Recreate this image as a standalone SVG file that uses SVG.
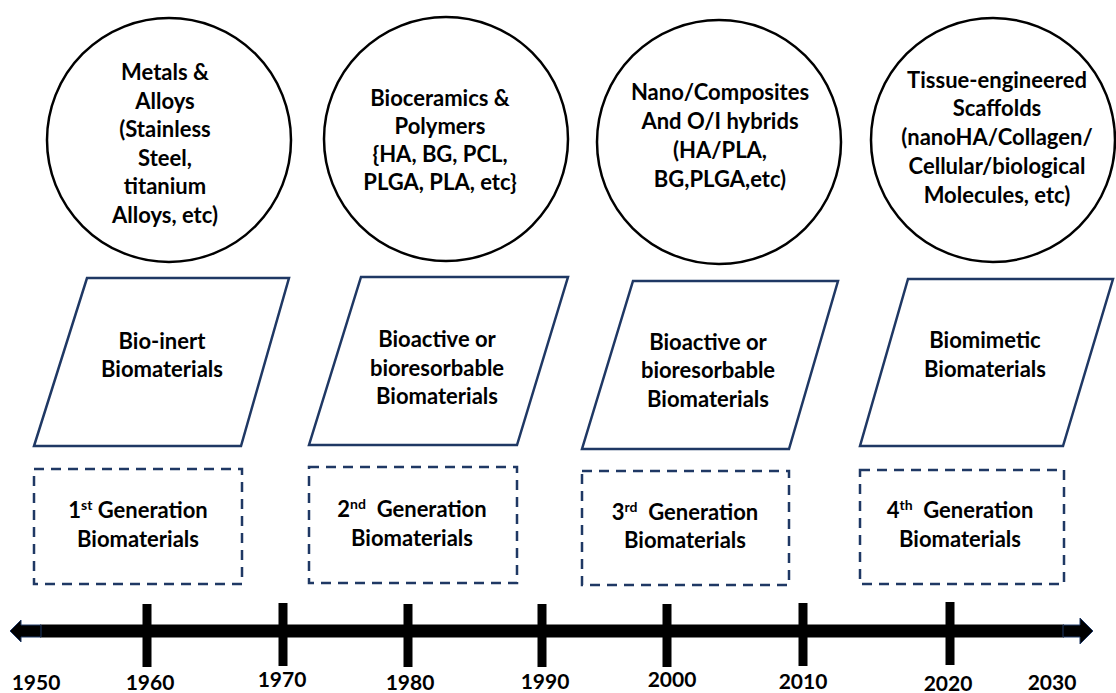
<svg xmlns="http://www.w3.org/2000/svg" width="1116" height="693" viewBox="0 0 1116 693">
<style>
.bg{fill:#ffffff}
.circ{fill:#ffffff;stroke:#000000;stroke-width:2.5}
.para{fill:#ffffff;stroke:#1F3864;stroke-width:2.5;stroke-linejoin:miter}
.dash{fill:#ffffff;stroke:#1F3864;stroke-width:2.5;stroke-dasharray:10 7}
.t{font-family:Lato,"Liberation Sans",sans-serif;font-weight:bold;font-size:22px;fill:#000000;text-anchor:middle}
.sup{font-size:14px}
.yr{font-family:Lato,"Liberation Sans",sans-serif;font-weight:bold;font-size:21px;fill:#000000;text-anchor:middle}
.axis{fill:#000000}
.arr{fill:#000000;stroke:#1F3864;stroke-width:1}
</style>
<rect class="bg" x="0" y="0" width="1116" height="693"/>

<g id="material1">
<circle class="circ" cx="169" cy="140" r="122"/>
<text class="t" x="165" y="80">Metals &amp;</text>
<text class="t" x="165" y="108.5">Alloys</text>
<text class="t" x="165" y="137">(Stainless</text>
<text class="t" x="165" y="165.5">Steel,</text>
<text class="t" x="165" y="194">titanium</text>
<text class="t" x="165" y="222.5">Alloys, etc)</text>
</g>
<g id="material2">
<circle class="circ" cx="446" cy="139" r="122"/>
<text class="t" x="440" y="106">Bioceramics &amp;</text>
<text class="t" x="440" y="134">Polymers</text>
<text class="t" x="440" y="162">{HA, BG, PCL,</text>
<text class="t" x="440" y="190">PLGA, PLA, etc}</text>
</g>
<g id="material3">
<circle class="circ" cx="719" cy="142" r="122"/>
<text class="t" x="720" y="100">Nano/Composites</text>
<text class="t" x="720" y="129">And O/I hybrids</text>
<text class="t" x="720" y="158">(HA/PLA,</text>
<text class="t" x="720" y="187">BG,PLGA,etc)</text>
</g>
<g id="material4">
<circle class="circ" cx="993" cy="140" r="122"/>
<text class="t" x="997" y="88">Tissue-engineered</text>
<text class="t" x="997" y="116">Scaffolds</text>
<text class="t" x="997" y="145">(nanoHA/Collagen/</text>
<text class="t" x="997" y="174">Cellular/biological</text>
<text class="t" x="997" y="203">Molecules, etc)</text>
</g>

<g id="type1">
<polygon class="para" points="87,278 289,278 241,446 34,446"/>
<text class="t" x="162" y="349">Bio-inert</text>
<text class="t" x="162" y="377">Biomaterials</text>
</g>
<g id="type2">
<polygon class="para" points="361,277 568,277 517,445 309,445"/>
<text class="t" x="437" y="347">Bioactive or</text>
<text class="t" x="437" y="376">bioresorbable</text>
<text class="t" x="437" y="404">Biomaterials</text>
</g>
<g id="type3">
<polygon class="para" points="633,281 838,281 789,449 582,449"/>
<text class="t" x="708" y="350">Bioactive or</text>
<text class="t" x="708" y="378">bioresorbable</text>
<text class="t" x="708" y="407">Biomaterials</text>
</g>
<g id="type4">
<polygon class="para" points="908,279 1113,279 1063,446 860,446"/>
<text class="t" x="985" y="348">Biomimetic</text>
<text class="t" x="985" y="377">Biomaterials</text>
</g>

<g id="gen1">
<rect class="dash" x="34" y="469" width="208" height="115"/>
<text class="t" x="138" y="518" xml:space="preserve">1<tspan class="sup" dy="-8">st</tspan><tspan dy="8"> Generation</tspan></text>
<text class="t" x="138" y="547">Biomaterials</text>
</g>
<g id="gen2">
<rect class="dash" x="309" y="467" width="208" height="116"/>
<text class="t" x="412" y="517" xml:space="preserve">2<tspan class="sup" dy="-8">nd</tspan><tspan dy="8">  Generation</tspan></text>
<text class="t" x="412" y="546">Biomaterials</text>
</g>
<g id="gen3">
<rect class="dash" x="582" y="471" width="207" height="114"/>
<text class="t" x="685" y="520" xml:space="preserve">3<tspan class="sup" dy="-8">rd</tspan><tspan dy="8">  Generation</tspan></text>
<text class="t" x="685" y="548">Biomaterials</text>
</g>
<g id="gen4">
<rect class="dash" x="860" y="470" width="204" height="114"/>
<text class="t" x="960" y="518" xml:space="preserve">4<tspan class="sup" dy="-8">th</tspan><tspan dy="8">  Generation</tspan></text>
<text class="t" x="960" y="547">Biomaterials</text>
</g>

<g id="timeline">
<rect class="axis" x="40" y="624.5" width="1024" height="13"/>
<polygon class="arr" points="41,625 21,625 21,620 10,631 21,642 21,637 41,637"/>
<polygon class="arr" points="1063,625 1080,625 1080,618 1093,631 1080,644 1080,637 1063,637"/>
<rect class="axis" x="142.5" y="604" width="9" height="63"/>
<rect class="axis" x="278.5" y="603" width="9" height="63"/>
<rect class="axis" x="403.5" y="604" width="9" height="63"/>
<rect class="axis" x="537.5" y="604" width="9" height="63"/>
<rect class="axis" x="662.5" y="604" width="9" height="63"/>
<rect class="axis" x="798.5" y="603" width="9" height="63"/>
<rect class="axis" x="945.5" y="602" width="9" height="63"/>
</g>

<g id="years">
<text class="yr" x="36" y="690">1950</text>
<text class="yr" x="150" y="690">1960</text>
<text class="yr" x="282" y="687">1970</text>
<text class="yr" x="410" y="690">1980</text>
<text class="yr" x="545" y="689">1990</text>
<text class="yr" x="672" y="687">2000</text>
<text class="yr" x="803" y="689">2010</text>
<text class="yr" x="948" y="691">2020</text>
<text class="yr" x="1052" y="690">2030</text>
</g>
</svg>
